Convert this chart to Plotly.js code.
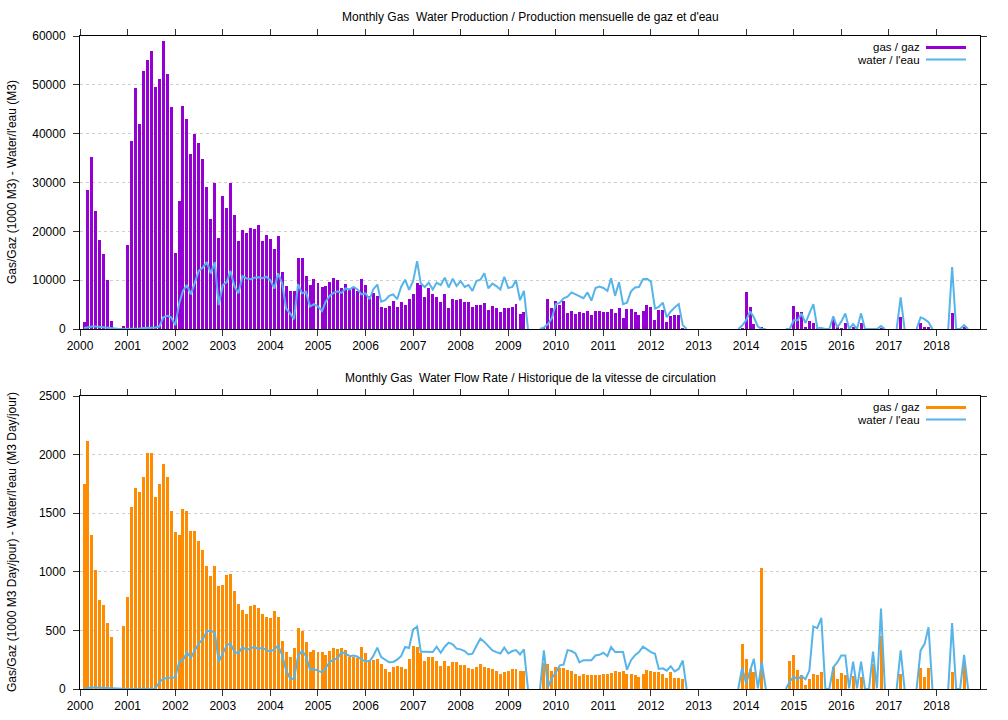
<!DOCTYPE html>
<html>
<head>
<meta charset="utf-8">
<script src="https://cdn.plot.ly/plotly-3.0.1.min.js"></script>
<style>html,body{margin:0;padding:0;background:#fff;}#chart{width:1008px;height:720px;}</style>
</head>
<body>
<div id="chart"></div>
<script>
// Monthly series, one line per year (Jan..Dec), starting January 2000.
// null = month with no record in the data.
const firstYear = 2000;

const gasVolume = [
  null, 1400, 28500, 35200, 24200, 18200, 15300, 10000, 1700, 0, 0, 600,
  17300, 38500, 49300, 42000, 52800, 55100, 57000, 49600, 51100, 59000, 52200, 45500,
  15500, 26300, 45700, 43100, 35800, 39900, 38000, 34800, 29000, 22500, 29800, 18600,
  27200, 24700, 30000, 23300, 18100, 20300, 19700, 20600, 20500, 21400, 18000, 19200,
  18400, 16300, 19000, 11600, 8800, 7800, 7700, 14500, 14600, 10900, 9000, 10200,
  9400, 8600, 8800, 9600, 10500, 10000, 8400, 9200, 8100, 8600, 7800, 10200,
  9100, 6800, 7300, 6800, 4500, 4400, 4700, 5800, 4600, 5600, 4900, 6100,
  7100, 9500, 9000, 6500, 8300, 7100, 6500, 5600, 7100, 4300, 6100, 5900,
  6100, 5600, 5600, 4600, 4900, 5000, 5300, 3900, 4800, 4200, 3400, 4400,
  4200, 4500, 5200, 3100, 3500, 0, null, null, 0, 200, 6100, 4200,
  5700, 4900, 5700, 3200, 3600, 3000, 3400, 3200, 3600, 2800, 3600, 3600,
  3400, 3400, 4100, 3300, 4300, 2300, 4100, 4000, 3500, 2800, 3700, 4900,
  4500, 1800, 3900, 3900, 1500, 2600, 2900, 2900, 300, 0, null, null,
  null, null, null, null, null, null, null, null, null, null, 0, 200,
  7500, 4500, 1000, 0, 500, 0, null, null, null, null, 0, 200,
  4700, 3500, 3500, 500, 1600, 1200, 150, 150, 0, 0, 2200, 500,
  150, 1200, 0, 500, 0, 1200, 0, 0, 150, 0, 200, 0,
  null, null, 0, 2400, 0, null, null, 0, 1300, 500, 400, 0,
  null, null, null, 0, 3300, 0, 0, 400, 0, null, null
];

const waterVolume = [
  null, 200, 400, 500, 500, 400, 400, 300, 100, 0, 0, 0,
  0, 0, 100, 100, 200, 200, 300, 300, 500, 2400, 2700, 2400,
  800, 5300, 7800, 9000, 7100, 9700, 11900, 12600, 13700, 11400, 13700, 4900,
  9000, 9600, 11900, 8700, 7300, 10800, 10400, 10200, 10500, 10600, 10400, 10700,
  10000, 8300, 11400, 9350, 4200, 3200, 2000, 9200, 7300, 7600, 4600, 5100,
  4600, 3700, 5600, 6800, 7400, 7700, 7400, 8300, 8100, 8600, 8100, 7100,
  7300, 6100, 8100, 9100, 5600, 5900, 6800, 7100, 6100, 8600, 10100, 8000,
  9800, 13900, 9300, 8600, 9500, 8100, 9500, 9000, 10500, 8500, 10300, 8800,
  9800, 8600, 9000, 7800, 9800, 10100, 11400, 8300, 9300, 8800, 8100, 10700,
  8400, 8600, 10000, 5900, 7800, 0, null, null, 0, 300, 1000, 2200,
  5100, 5400, 6300, 6600, 7500, 7100, 6600, 6300, 7500, 5800, 8400, 8700,
  8400, 7800, 10400, 6800, 9600, 5100, 5400, 7700, 8500, 8600, 10200, 10300,
  9700, 4200, 4500, 5400, 2400, 3600, 4400, 5100, 800, 0, null, null,
  null, null, null, null, null, null, null, null, null, null, 0, 700,
  1800, 3600, 2400, 500, 0, 0, null, null, null, null, 0, 0,
  1800, 1800, 3200, 1200, 3200, 5100, 200, 200, 0, 0, 2600, 300,
  1500, 3200, 0, 1000, 0, 3200, 0, 0, 0, 0, 600, 0,
  null, null, 0, 6500, 0, null, null, 0, 2400, 2000, 1400, 0,
  null, null, null, 0, 12700, 0, 0, 800, 0, null, null
];

const gasRate = [
  null, 1750, 2120, 1312, 1017, 762, 717, 561, 442, 0, 0, 541,
  785, 1555, 1711, 1677, 1810, 2011, 2011, 1640, 1748, 1918, 1805, 1516,
  1343, 1317, 1535, 1521, 1351, 1348, 1261, 1184, 1048, 960, 1048, 878,
  884, 972, 983, 833, 728, 674, 637, 711, 720, 688, 643, 618,
  606, 666, 618, 408, 314, 269, 348, 521, 495, 400, 316, 333,
  319, 312, 289, 324, 353, 344, 353, 332, 275, 275, 266, 361,
  303, 246, 251, 257, 214, 173, 147, 188, 194, 185, 171, 260,
  370, 355, 310, 237, 275, 275, 243, 194, 243, 199, 228, 231,
  205, 205, 179, 171, 188, 217, 185, 179, 171, 150, 124, 147,
  150, 171, 173, 150, 150, 0, null, null, 0, 222, 214, 150,
  188, 182, 182, 159, 153, 130, 113, 124, 118, 118, 121, 118,
  124, 124, 139, 150, 142, 156, 130, 130, 118, 101, 130, 162,
  150, 142, 142, 130, 98, 142, 95, 95, 87, 0, null, null,
  null, null, null, null, null, null, null, null, null, null, 0, 388,
  256, 174, 144, 0, 1032, 0, null, null, null, null, 0, 240,
  291, 160, 117, 34, 86, 129, 120, 143, 0, 0, 189, 89,
  134, 120, 0, 111, 0, 100, 0, 0, 214, 0, 449, 0,
  null, null, 0, 126, 0, null, null, 0, 183, 100, 183, 0,
  null, null, null, 0, 146, 0, 0, 214, 0, null, null
];

const waterRate = [
  null, 5, 10, 12, 12, 10, 8, 5, 3, 0, 0, 0,
  0, 0, 0, 2, 3, 5, 5, 5, 57, 88, 93, 96,
  99, 232, 246, 312, 266, 331, 388, 425, 493, 496, 479, 232,
  303, 374, 388, 317, 303, 360, 331, 346, 360, 340, 354, 331,
  320, 337, 371, 289, 161, 91, 85, 280, 326, 280, 165, 171,
  159, 142, 179, 231, 251, 263, 315, 301, 280, 286, 275, 251,
  237, 237, 280, 353, 272, 246, 228, 231, 251, 280, 358, 350,
  506, 532, 318, 318, 318, 315, 361, 309, 361, 396, 382, 344,
  338, 324, 295, 301, 367, 431, 402, 367, 329, 315, 303, 353,
  303, 324, 332, 295, 338, 0, null, null, 0, 329, 15, 92,
  142, 202, 208, 332, 324, 303, 228, 246, 246, 246, 286, 292,
  309, 280, 358, 315, 315, 315, 165, 246, 289, 315, 361, 338,
  315, 301, 171, 176, 156, 194, 150, 171, 243, 0, null, null,
  null, null, null, null, null, null, null, null, null, null, 0, 182,
  49, 163, 257, 6, 229, 0, null, null, null, null, 0, 63,
  106, 83, 111, 83, 157, 534, 520, 606, 0, 0, 186, 226,
  286, 286, 6, 234, 6, 234, 0, 0, 320, 6, 686, 0,
  null, null, 0, 329, 0, null, null, 0, 329, 383, 526, 0,
  null, null, null, 0, 563, 0, 0, 291, 0, null, null
];

const topTitle = "Monthly Gas \u00a0Water Production / Production mensuelle de gaz et d'eau";
const bottomTitle = "Monthly Gas \u00a0Water Flow Rate / Historique de la vitesse de circulation";
const topYTitle = "Gas/Gaz (1000 M3) - Water/l'eau (M3)";
const bottomYTitle = "Gas/Gaz (1000 M3 Day/jour) - Water/l'eau (M3 Day/jour)";
const gasLabel = "gas / gaz";
const waterLabel = "water / l'eau";

// month dates (first of each month)
const months = gasVolume.map((_, i) => {
  const d = new Date(Date.UTC(firstYear, i, 1));
  return d.toISOString().slice(0, 10);
});

const PURPLE = '#9400d3', ORANGE = '#ff8c00', BLUE = '#56b4e9';
const FONT = 'Liberation Sans, Arial, sans-serif';
const FS = 12;
const barW = 23 * 86400000;

const traces = [
  {type: 'bar', x: months, y: gasVolume, xaxis: 'x', yaxis: 'y', width: barW,
   marker: {color: PURPLE, line: {width: 0}}, name: gasLabel},
  {type: 'scatter', mode: 'lines', x: months, y: waterVolume, xaxis: 'x', yaxis: 'y',
   line: {color: BLUE, width: 2}, connectgaps: false, name: waterLabel},
  {type: 'bar', x: months, y: gasRate, xaxis: 'x2', yaxis: 'y2', width: barW,
   marker: {color: ORANGE, line: {width: 0}}, name: gasLabel},
  {type: 'scatter', mode: 'lines', x: months, y: waterRate, xaxis: 'x2', yaxis: 'y2',
   line: {color: BLUE, width: 2}, connectgaps: false, name: waterLabel}
];

// pixel helpers for paper coords (plot area: x 80..980, y 36..689)
const px = v => (v - 80) / 900;
const py = v => (689 - v) / 653;

const xAxisBase = {
  type: 'date', range: ['2000-01-01', '2018-12-01'],
  tick0: '2000-01-01', dtick: 'M12', tickformat: '%Y',
  ticks: 'outside', ticklen: 6, tickcolor: '#333', mirror: 'allticks',
  showline: true, linecolor: '#000', linewidth: 1,
  showgrid: false, zeroline: false,
  tickfont: {family: FONT, size: FS, color: '#000'}
};
const yAxisBase = {
  ticks: 'outside', ticklen: 6, tickcolor: '#333', mirror: 'allticks',
  showline: true, linecolor: '#000', linewidth: 1,
  showgrid: true, gridcolor: '#cfcfcf', griddash: '3px,3px', gridwidth: 1,
  zeroline: false, tickformat: 'd', ticklabelstandoff: 5,
  tickfont: {family: FONT, size: FS, color: '#000'}
};

const annText = (text, x, y, extra) => Object.assign({
  text: text, xref: 'paper', yref: 'paper', x: x, y: y, showarrow: false,
  font: {family: FONT, size: FS, color: '#000'}
}, extra || {});

const legFont = {family: FONT, size: 11.5, color: '#000'};
const annotations = [
  annText(topTitle, 0.5, py(17), {xanchor: 'center', yanchor: 'middle'}),
  annText(bottomTitle, 0.5, py(378), {xanchor: 'center', yanchor: 'middle'}),
  annText(topYTitle, px(12), py(182), {xanchor: 'center', yanchor: 'middle', textangle: -90}),
  annText(bottomYTitle, px(12), py(542), {xanchor: 'center', yanchor: 'middle', textangle: -90}),
  annText(gasLabel, px(921), py(47), {xanchor: 'right', yanchor: 'middle', font: legFont, borderpad: 0}),
  annText(waterLabel, px(921), py(60), {xanchor: 'right', yanchor: 'middle', font: legFont, borderpad: 0}),
  annText(gasLabel, px(921), py(407), {xanchor: 'right', yanchor: 'middle', font: legFont, borderpad: 0}),
  annText(waterLabel, px(921), py(420), {xanchor: 'right', yanchor: 'middle', font: legFont, borderpad: 0})
];

const legLine = (y, color, w) => ({
  type: 'line', xref: 'paper', yref: 'paper', x0: px(926), x1: px(966), y0: py(y), y1: py(y),
  line: {color: color, width: w}
});
const shapes = [
  legLine(47.5, PURPLE, 3), legLine(59.5, BLUE, 2),
  legLine(407.5, ORANGE, 3), legLine(419.5, BLUE, 2)
];

const layout = {
  width: 1008, height: 720,
  margin: {l: 80, r: 28, t: 36, b: 31},
  paper_bgcolor: '#fff', plot_bgcolor: '#fff',
  showlegend: false, bargap: 0,
  font: {family: FONT, size: FS, color: '#000'},
  xaxis: Object.assign({}, xAxisBase, {anchor: 'y', domain: [0, 1]}),
  yaxis: Object.assign({}, yAxisBase, {anchor: 'x', domain: [py(329), 1], range: [0, 60000], dtick: 10000}),
  xaxis2: Object.assign({}, xAxisBase, {anchor: 'y2', domain: [0, 1]}),
  yaxis2: Object.assign({}, yAxisBase, {anchor: 'x2', domain: [0, py(396)], range: [0, 2500], dtick: 500}),
  annotations: annotations,
  shapes: shapes
};

Plotly.newPlot('chart', traces, layout, {displayModeBar: false, staticPlot: true});
</script>
</body>
</html>
